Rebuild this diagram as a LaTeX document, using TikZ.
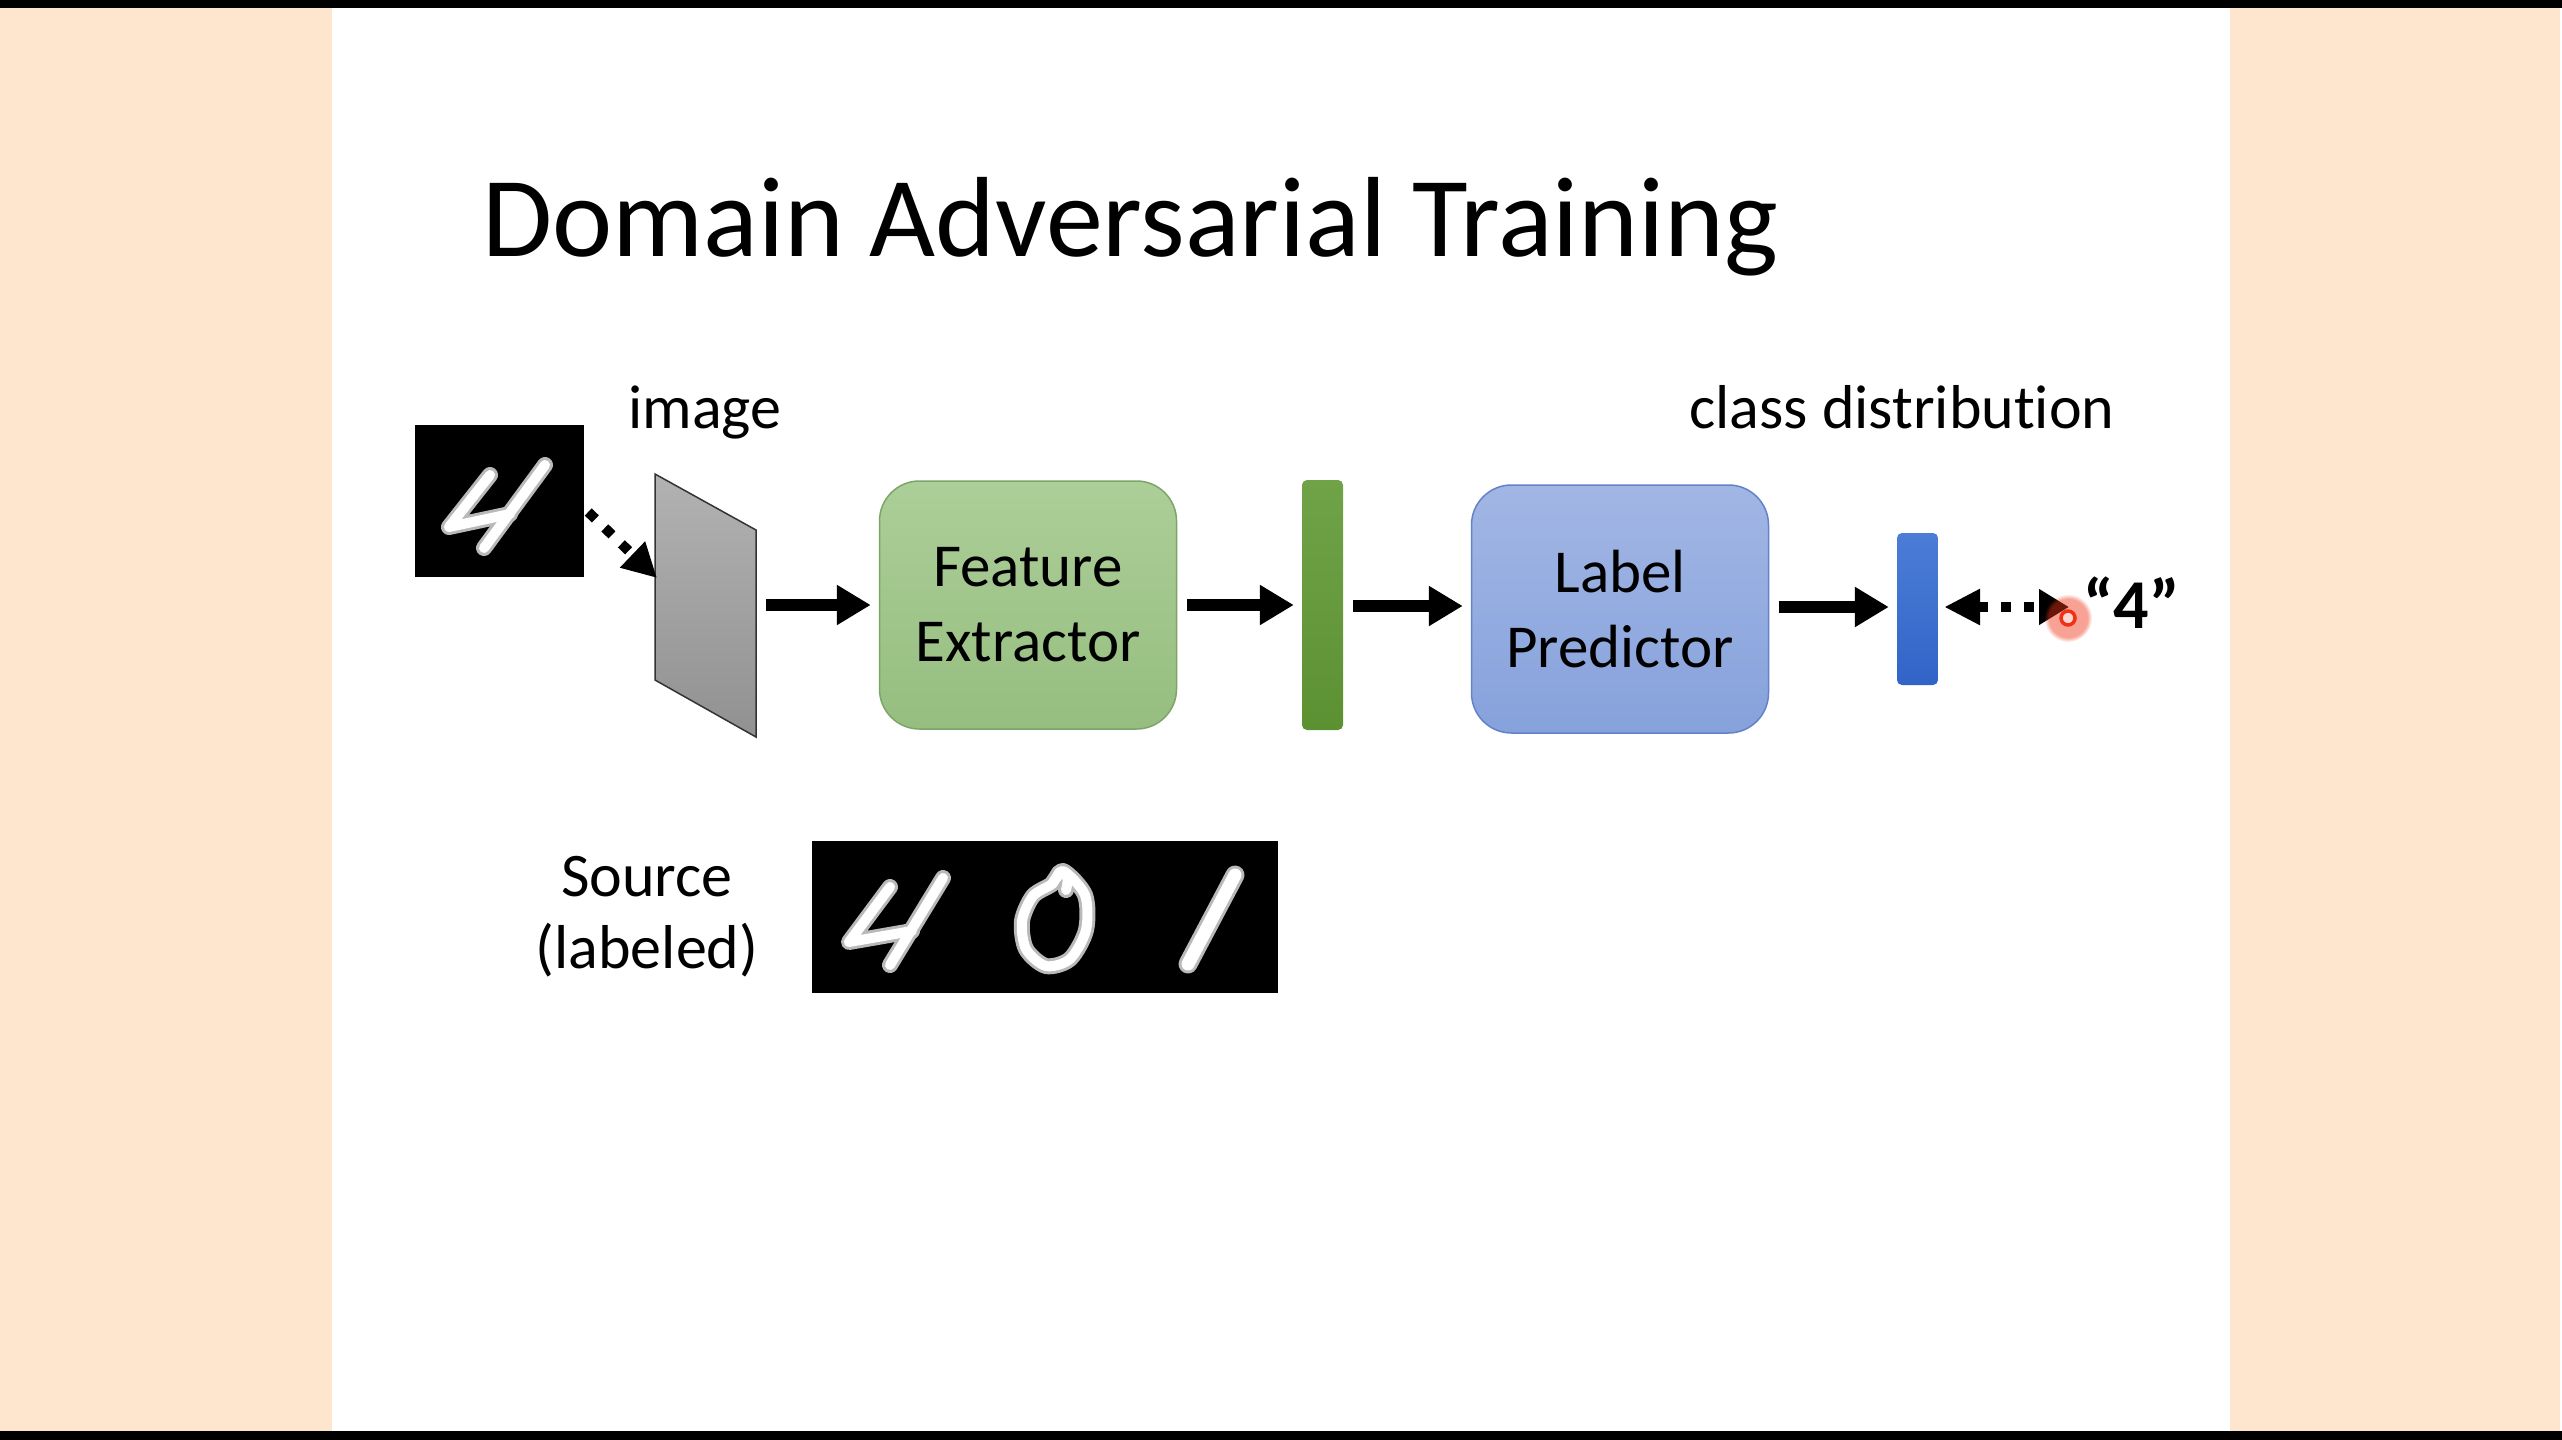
\documentclass[tikz,border=0pt]{standalone}
\usepackage{fontspec}
\setmainfont{Carlito}[Ligatures={NoCommon}]
\usetikzlibrary{arrows.meta,calc,fadings}

\definecolor{peach}{RGB}{254,230,206}
\definecolor{feTop}{RGB}{172,206,152}
\definecolor{feBot}{RGB}{150,190,128}
\definecolor{feLine}{RGB}{125,165,105}
\definecolor{lpTop}{RGB}{162,182,228}
\definecolor{lpBot}{RGB}{134,162,220}
\definecolor{lpLine}{RGB}{100,130,200}
\definecolor{gbTop}{RGB}{112,163,72}
\definecolor{gbBot}{RGB}{92,145,50}
\definecolor{bbTop}{RGB}{75,125,215}
\definecolor{bbBot}{RGB}{50,100,200}
\definecolor{planeTop}{RGB}{178,178,178}
\definecolor{planeBot}{RGB}{145,145,145}
\definecolor{laser}{RGB}{240,50,20}

\begin{document}
\begin{tikzpicture}[x=1pt,y=-1pt,
  flow/.style={line width=12pt,-{Triangle[length=34pt,width=38pt]},shorten <=10pt,shorten >=8pt},
  dotflow/.style={line width=10pt,dash pattern=on 10pt off 13pt},
  block/.style={rounded corners=40pt,minimum width=297pt,minimum height=248pt,align=center,
    font=\fontsize{61}{75}\selectfont,inner sep=0pt,line width=1.5pt},
  featbar/.style={rounded corners=5pt,minimum width=41pt,inner sep=0pt},
  lbl/.style={font=\fontsize{62}{72}\selectfont,inner sep=0pt},
  digitglow/.style={gray!55,line width=16pt,line cap=round,line join=round},
  digitpen/.style={white,line width=10pt,line cap=round,line join=round},
  pic/.style={fill=black,inner sep=0pt}
]
\useasboundingbox (0,0) rectangle (2562,1440);

% slide background and margins
\fill[white] (0,0) rectangle (2562,1440);
\fill[peach] (0,0) rectangle (332,1440);
\fill[peach] (2230,0) rectangle (2560,1440);
\fill[black] (0,0) rectangle (2562,8);
\fill[black] (0,1431) rectangle (2562,1440);

% title
\node[anchor=base west,inner sep=0pt,font=\fontsize{114}{130}\selectfont] (title) at (482,256) {Domain Adversarial Training};

% input digit
\node[pic,minimum width=169pt,minimum height=152pt] (img4) at (499.5,501) {};
\foreach \st in {digitglow,digitpen}{
  \draw[\st] (490,475) -- (449,527) -- (510,514);
  \draw[\st] (545,465) -- (484,548);
}

% input plane
\shadedraw[top color=planeTop,bottom color=planeBot,draw=gray!40!black,line width=1.5pt]
  (655,474) -- (756,530) -- (756,737) -- (655,680) -- cycle;
\coordinate (planeL) at (657,578);
\coordinate (planeR) at (756,605);
\node[lbl,anchor=base] (imglbl) at (705,428) {image};

% blocks
\node[block,top color=feTop,bottom color=feBot,draw=feLine] (fe) at (1028,605) {Feature\\Extractor};
\node[featbar,minimum height=250pt,top color=gbTop,bottom color=gbBot] (gbar) at (1322.5,605) {};
\node[block,top color=lpTop,bottom color=lpBot,draw=lpLine] (lp) at (1620,609) {Label\\Predictor};
\node[featbar,minimum height=152pt,top color=bbTop,bottom color=bbBot] (bbar) at (1917.5,609) {};
\node[lbl,anchor=base] (cls) at (1902,428) {class distribut\kern0pt ion};
\node[anchor=base west,inner sep=0pt,font=\fontsize{70}{80}\selectfont\bfseries] (q4) at (2083,628) {“4”};

% connectors
\draw[dotflow,-{Triangle[length=34pt,width=34pt]}] ($(img4.east)+(4,11)$) -- (planeL);
\draw[flow] (planeR) -- (fe.west |- planeR);
\draw[flow] (fe.east) -- (gbar.west |- fe.east);
\draw[flow] (gbar.east |- 0,606) -- (lp.west |- 0,606);
\draw[flow] (lp.east |- 0,607) -- (bbar.west |- 0,607);
\draw[dotflow,{Triangle[length=36pt,width=34pt]}-{Triangle[length=30pt,width=34pt]},shorten <=6pt,shorten >=14pt]
  (bbar.east |- 0,607) -- (q4.west |- 0,607);

% pointer spot
\fill[laser,opacity=0.45,path fading=circle with fuzzy edge 20 percent] (2068,618) circle (24);
\draw[laser,line width=3.5pt,fill=white!80!laser] (2068,618) circle (7);

% labeled source samples
\node[lbl,align=center] (srclbl) at (647,917) {Source\\(labeled)};
\node[pic,minimum width=466pt,minimum height=152pt] (src) at (1045,917) {};
\foreach \st in {digitglow,digitpen}{
  \draw[\st] (890,887) -- (849,942) -- (912,931);
  \draw[\st] (943,878) -- (890,965);
  \draw[\st] plot[smooth cycle] coordinates {(1063,871) (1085,895) (1086,930) (1070,959) (1046,966) (1026,949) (1022,921) (1033,896) (1052,884)};
  \draw[\st] (1052,884) .. controls (1060,870) and (1072,866) .. (1066,890);
  \draw[\st,line width=\pgflinewidth+3pt] (1235,875) -- (1188,964);
}
\end{tikzpicture}
\end{document}
